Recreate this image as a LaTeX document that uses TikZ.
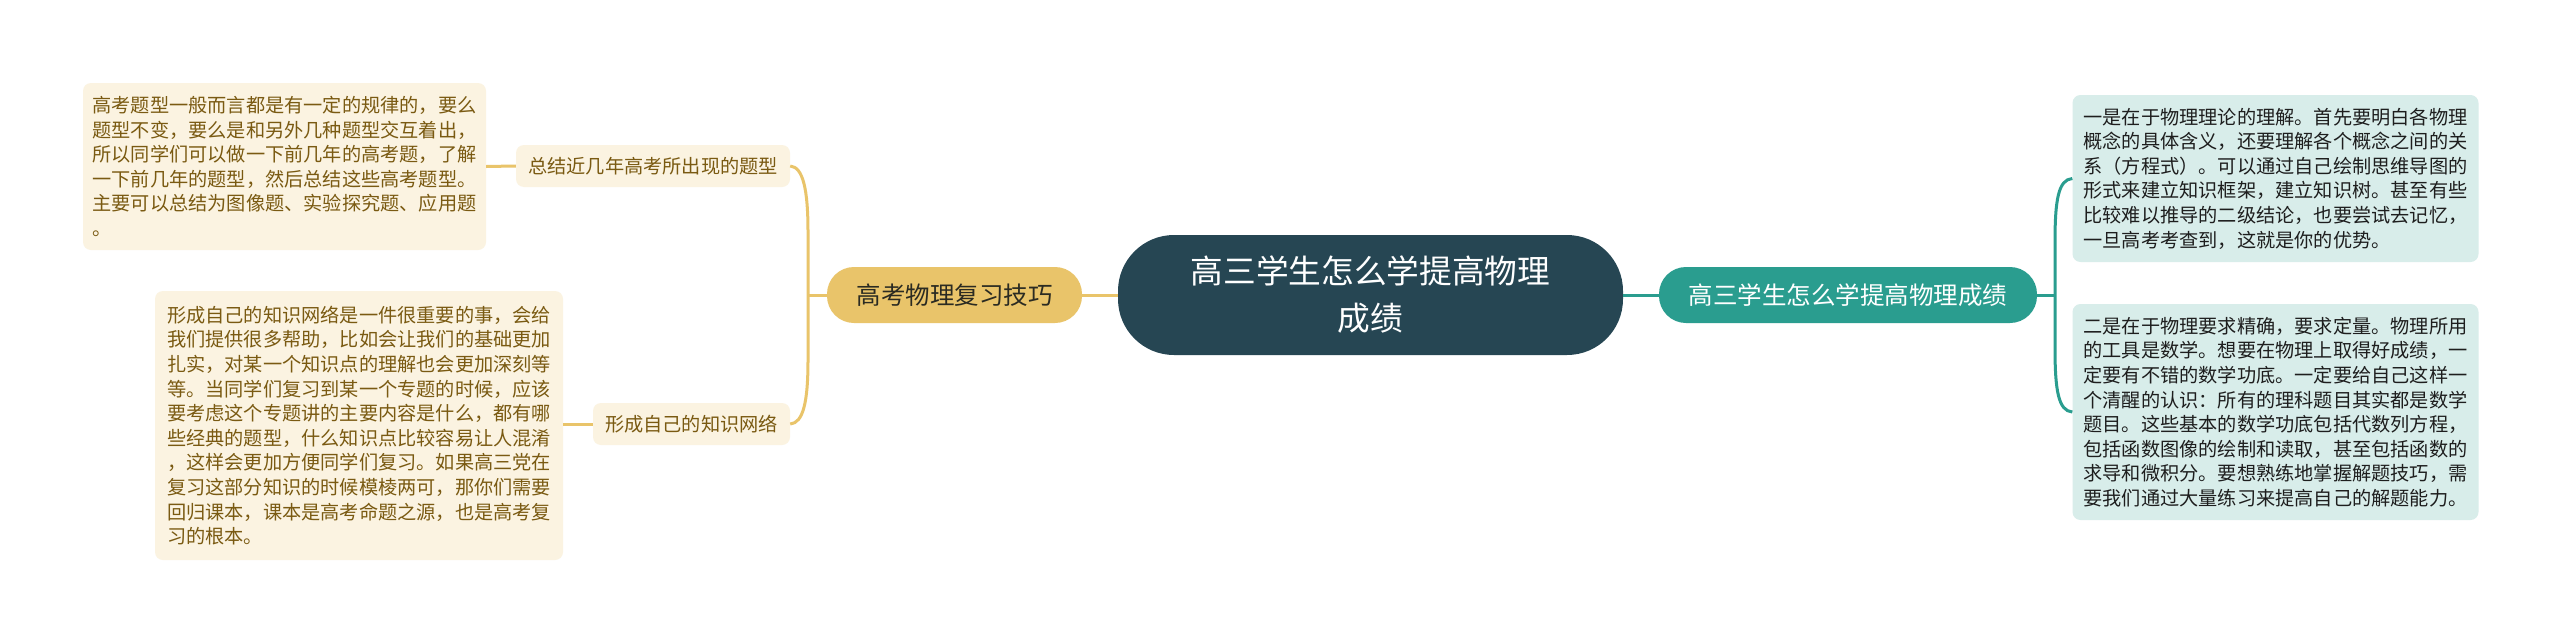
\documentclass[tikz,border=0pt]{standalone}
\usepackage{fontspec}
\setmainfont{Noto Sans CJK SC}
\definecolor{cDark}{HTML}{264653}
\definecolor{cTeal}{HTML}{2A9D8F}
\definecolor{cYellow}{HTML}{E9C46A}
\definecolor{cCream}{HTML}{FBF3E1}
\definecolor{cBrown}{HTML}{7A5A12}
\definecolor{cMint}{HTML}{D8EDEA}
\definecolor{cInk}{HTML}{1E1E1E}
\definecolor{cMainInk}{HTML}{2B2B22}
\begin{document}
\begin{tikzpicture}[x=1pt,y=-1pt,
  base/.style={inner sep=0pt, align=center},
  rootbox/.style={base, fill=cDark, text=white, rounded corners=56pt,
    minimum width=505pt, minimum height=120pt, font=\fontsize{32.7}{47}\selectfont},
  lmainbox/.style={base, fill=cYellow, text=cMainInk, rounded corners=27pt,
    minimum height=56pt, font=\fontsize{24.5}{30}\selectfont},
  rmainbox/.style={base, fill=cTeal, text=white, rounded corners=27pt,
    minimum height=56pt, font=\fontsize{24.5}{30}\selectfont},
  subbox/.style={base, fill=cCream, text=cBrown, rounded corners=8pt,
    minimum height=42pt, font=\fontsize{19.2}{24.6}\selectfont},
  leafl/.style={base, align=left, fill=cCream, text=cBrown, rounded corners=8pt,
    font=\fontsize{19.2}{24.6}\selectfont},
  leafr/.style={base, align=left, fill=cMint, text=cInk, rounded corners=8pt,
    font=\fontsize{19.2}{24.6}\selectfont},
  ylink/.style={draw=cYellow, line width=3pt},
  tlink/.style={draw=cTeal, line width=3pt}
]
\useasboundingbox[fill=white] (0,0) rectangle (2560,640);

\node[rootbox] (root) at (1370.5,295) {高三学生怎么学提高物理\\成绩};
\node[lmainbox, minimum width=255pt] (lmain) at (954.5,295) {高考物理复习技巧};
\node[rmainbox, minimum width=378pt] (rmain) at (1848,295) {高三学生怎么学提高物理成绩};

\node[subbox, minimum width=274pt] (sub1) at (653,166) {总结近几年高考所出现的题型};
\node[subbox, minimum width=197pt] (sub2) at (691.5,424) {形成自己的知识网络};

\node[leafl, minimum width=403pt, minimum height=167pt] (leafl1) at (284.5,166.5) {%
高考题型一般而言都是有一定的规律的，要么\\
题型不变，要么是和另外几种题型交互着出，\\
所以同学们可以做一下前几年的高考题，了解\\
一下前几年的题型，然后总结这些高考题型。\\
主要可以总结为图像题、实验探究题、应用题\\
。};

\node[leafl, minimum width=408pt, minimum height=269pt] (leafl2) at (359,425.5) {%
形成自己的知识网络是一件很重要的事，会给\\
我们提供很多帮助，比如会让我们的基础更加\\
扎实，对某一个知识点的理解也会更加深刻等\\
等。当同学们复习到某一个专题的时候，应该\\
要考虑这个专题讲的主要内容是什么，都有哪\\
些经典的题型，什么知识点比较容易让人混淆\\
，这样会更加方便同学们复习。如果高三党在\\
复习这部分知识的时候模棱两可，那你们需要\\
回归课本，课本是高考命题之源，也是高考复\\
习的根本。};

\node[leafr, minimum width=406pt, minimum height=167pt] (leafr1) at (2275.5,178.5) {%
一是在于物理理论的理解。首先要明白各物理\\
概念的具体含义，还要理解各个概念之间的关\\
系（方程式）。可以通过自己绘制思维导图的\\
形式来建立知识框架，建立知识树。甚至有些\\
比较难以推导的二级结论，也要尝试去记忆，\\
一旦高考考查到，这就是你的优势。};

\node[leafr, minimum width=406pt, minimum height=216pt] (leafr2) at (2275.5,412) {%
二是在于物理要求精确，要求定量。物理所用\\
的工具是数学。想要在物理上取得好成绩，一\\
定要有不错的数学功底。一定要给自己这样一\\
个清醒的认识：所有的理科题目其实都是数学\\
题目。这些基本的数学功底包括代数列方程，\\
包括函数图像的绘制和读取，甚至包括函数的\\
求导和微积分。要想熟练地掌握解题技巧，需\\
要我们通过大量练习来提高自己的解题能力。};

% joints
\coordinate (lj) at (808,295);
\coordinate (lt) at (808,232);
\coordinate (lb) at (808,360);
\coordinate (rj) at (2055,295);
\coordinate (rt) at (2055,242);
\coordinate (rb) at (2055,348);

% links
\draw[ylink] (root.west) -- (lmain.east);
\draw[ylink] (lmain.west) -- (lj);
\draw[ylink] (sub1.east) .. controls +(13,1) and +(0,-42) .. (lt) -- (lb)
  .. controls +(0,42) and +(13,-1) .. (sub2.east);
\draw[ylink] (sub1.west) -- (leafl1.east);
\draw[ylink] (sub2.west) -- (sub2.west -| leafl2.east);

\draw[tlink] (root.east) -- (rmain.west);
\draw[tlink] (rmain.east) -- (rj);
\draw[tlink] (leafr1.west) .. controls +(-14,1) and +(0,-42) .. (rt) -- (rb)
  .. controls +(0,42) and +(-14,-1) .. (leafr2.west);
\end{tikzpicture}
\end{document}
